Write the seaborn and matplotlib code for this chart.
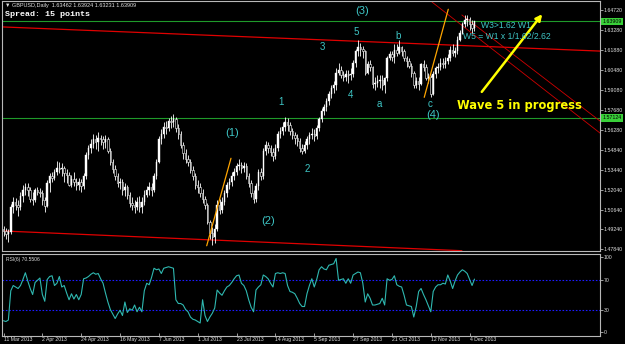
import matplotlib
matplotlib.use("Agg")
import matplotlib.pyplot as plt
import matplotlib.transforms as mtransforms
import pandas as pd
import seaborn as sns

# GBPUSD daily bars, 11 Mar 2013 .. 6 Dec 2013
close = [
    1.4915, 1.4895, 1.4905, 1.5085, 1.5120, 1.5100, 1.5085, 1.5160, 1.5200, 1.5220,
    1.5200, 1.5140, 1.5130, 1.5200, 1.5190, 1.5180, 1.5130, 1.5090, 1.5250, 1.5300,
    1.5290, 1.5330, 1.5360, 1.5350, 1.5360, 1.5320, 1.5310, 1.5240, 1.5280, 1.5260,
    1.5240, 1.5260, 1.5230, 1.5300, 1.5450, 1.5500, 1.5530, 1.5560, 1.5540, 1.5570,
    1.5560, 1.5540, 1.5560, 1.5480, 1.5400, 1.5350, 1.5300, 1.5250, 1.5260, 1.5200,
    1.5220, 1.5170, 1.5110, 1.5100, 1.5080, 1.5120, 1.5080, 1.5120, 1.5170, 1.5200,
    1.5220, 1.5200, 1.5300, 1.5400, 1.5560, 1.5600, 1.5650, 1.5640, 1.5690, 1.5680,
    1.5700, 1.5640, 1.5600, 1.5520, 1.5460, 1.5420, 1.5400, 1.5340, 1.5300, 1.5240,
    1.5220, 1.5180, 1.5140, 1.5100, 1.4980, 1.4900, 1.4870, 1.4930, 1.5100, 1.5060,
    1.5120, 1.5180, 1.5240, 1.5260, 1.5300, 1.5330, 1.5370, 1.5380, 1.5360, 1.5370,
    1.5300, 1.5250, 1.5180, 1.5140, 1.5230, 1.5330, 1.5300, 1.5480, 1.5520, 1.5500,
    1.5470, 1.5440, 1.5500, 1.5600, 1.5620, 1.5650, 1.5680, 1.5660, 1.5620, 1.5590,
    1.5570, 1.5550, 1.5500, 1.5480, 1.5520, 1.5560, 1.5590, 1.5600, 1.5580, 1.5640,
    1.5700, 1.5760, 1.5790, 1.5830, 1.5880, 1.5920, 1.5940, 1.6030, 1.6050, 1.6010,
    1.6000, 1.6020, 1.6010, 1.6020, 1.6100, 1.6180, 1.6210, 1.6200, 1.6180, 1.6030,
    1.6090, 1.6070, 1.5950, 1.5960, 1.5970, 1.5980, 1.5940, 1.5990, 1.6130, 1.6160,
    1.6140, 1.6190, 1.6170, 1.6210, 1.6180, 1.6130, 1.6110, 1.6080, 1.6030, 1.5940,
    1.5970, 1.5950, 1.6090, 1.6070, 1.5990, 1.6000, 1.5880, 1.6020, 1.6060, 1.6070,
    1.6100, 1.6090, 1.6110, 1.6130, 1.6190, 1.6170, 1.6180, 1.6260, 1.6310, 1.6370,
    1.6400, 1.6410, 1.6370, 1.63462, 1.63909,
]
high = [
    1.4950, 1.4935, 1.4930, 1.5105, 1.5150, 1.5145, 1.5130, 1.5185, 1.5235, 1.5250,
    1.5250, 1.5220, 1.5190, 1.5215, 1.5225, 1.5215, 1.5200, 1.5150, 1.5270, 1.5320,
    1.5330, 1.5350, 1.5410, 1.5400, 1.5395, 1.5375, 1.5350, 1.5330, 1.5310, 1.5330,
    1.5285, 1.5290, 1.5280, 1.5320, 1.5470, 1.5520, 1.5560, 1.5600, 1.5590, 1.5610,
    1.5590, 1.5580, 1.5590, 1.5575, 1.5500, 1.5420, 1.5380, 1.5320, 1.5290, 1.5280,
    1.5250, 1.5240, 1.5190, 1.5150, 1.5130, 1.5150, 1.5160, 1.5150, 1.5200, 1.5230,
    1.5260, 1.5250, 1.5320, 1.5420, 1.5580, 1.5630, 1.5680, 1.5690, 1.5710, 1.5725,
    1.5735, 1.5720, 1.5670, 1.5620, 1.5540, 1.5490, 1.5450, 1.5420, 1.5370, 1.5320,
    1.5270, 1.5250, 1.5210, 1.5160, 1.5110, 1.4990, 1.4940, 1.4960, 1.5130, 1.5140,
    1.5150, 1.5200, 1.5260, 1.5290, 1.5330, 1.5360, 1.5390, 1.5420, 1.5400, 1.5400,
    1.5390, 1.5320, 1.5270, 1.5200, 1.5250, 1.5350, 1.5360, 1.5500, 1.5550, 1.5540,
    1.5520, 1.5500, 1.5530, 1.5620, 1.5650, 1.5680, 1.5720, 1.5710, 1.5680, 1.5640,
    1.5610, 1.5600, 1.5570, 1.5530, 1.5550, 1.5580, 1.5610, 1.5640, 1.5630, 1.5660,
    1.5720, 1.5780, 1.5810, 1.5850, 1.5900, 1.5940, 1.5970, 1.6060, 1.6100, 1.6080,
    1.6040, 1.6050, 1.6050, 1.6060, 1.6120, 1.6200, 1.6260, 1.6240, 1.6220, 1.6190,
    1.6110, 1.6120, 1.6080, 1.6000, 1.6010, 1.6010, 1.6010, 1.6000, 1.6150, 1.6180,
    1.6180, 1.6230, 1.6230, 1.6260, 1.6220, 1.6200, 1.6150, 1.6130, 1.6100, 1.6040,
    1.6000, 1.6000, 1.6100, 1.6120, 1.6090, 1.6030, 1.6010, 1.6040, 1.6080, 1.6100,
    1.6130, 1.6130, 1.6140, 1.6160, 1.6220, 1.6230, 1.6210, 1.6290, 1.6330, 1.6390,
    1.6440, 1.6437, 1.6425, 1.6400, 1.63924,
]
low = [
    1.4880, 1.4860, 1.4835, 1.4890, 1.5040, 1.5060, 1.5020, 1.5060, 1.5120, 1.5170,
    1.5160, 1.5115, 1.5100, 1.5120, 1.5170, 1.5150, 1.5100, 1.5050, 1.5080, 1.5190,
    1.5260, 1.5270, 1.5310, 1.5320, 1.5300, 1.5260, 1.5250, 1.5230, 1.5220, 1.5230,
    1.5200, 1.5200, 1.5190, 1.5210, 1.5280, 1.5420, 1.5460, 1.5500, 1.5490, 1.5480,
    1.5520, 1.5490, 1.5500, 1.5460, 1.5380, 1.5320, 1.5270, 1.5220, 1.5210, 1.5170,
    1.5160, 1.5140, 1.5080, 1.5060, 1.5040, 1.5060, 1.5050, 1.5040, 1.5100, 1.5150,
    1.5170, 1.5160, 1.5190, 1.5280, 1.5390, 1.5530, 1.5570, 1.5600, 1.5620, 1.5640,
    1.5650, 1.5610, 1.5560, 1.5500, 1.5420, 1.5390, 1.5370, 1.5320, 1.5270, 1.5210,
    1.5180, 1.5150, 1.5110, 1.5070, 1.4960, 1.4860, 1.4815, 1.4830, 1.4910, 1.5030,
    1.5040, 1.5100, 1.5150, 1.5210, 1.5230, 1.5270, 1.5310, 1.5340, 1.5320, 1.5330,
    1.5280, 1.5220, 1.5150, 1.5110, 1.5120, 1.5200, 1.5270, 1.5280, 1.5450, 1.5460,
    1.5440, 1.5410, 1.5420, 1.5480, 1.5570, 1.5590, 1.5620, 1.5620, 1.5590, 1.5560,
    1.5530, 1.5510, 1.5470, 1.5455, 1.5460, 1.5490, 1.5530, 1.5560, 1.5550, 1.5560,
    1.5620, 1.5680, 1.5730, 1.5760, 1.5800, 1.5850, 1.5890, 1.5910, 1.6010, 1.5990,
    1.5970, 1.5970, 1.5960, 1.5980, 1.6000, 1.6070, 1.6150, 1.6150, 1.6130, 1.6010,
    1.6020, 1.6040, 1.5920, 1.5910, 1.5930, 1.5920, 1.5910, 1.5890, 1.5970, 1.6120,
    1.6110, 1.6100, 1.6150, 1.6160, 1.6150, 1.6110, 1.6070, 1.6060, 1.6000, 1.5920,
    1.5920, 1.5910, 1.5940, 1.6040, 1.5980, 1.5960, 1.5855, 1.5870, 1.5990, 1.6030,
    1.6050, 1.6060, 1.6060, 1.6090, 1.6110, 1.6150, 1.6140, 1.6160, 1.6250, 1.6300,
    1.6350, 1.6360, 1.6330, 1.6310, 1.63231,
]
first_open = 1.4925

rsi6 = [
    15, 14, 16, 55, 62, 60, 58, 62, 70, 79, 68, 58, 50, 66, 69, 72, 50, 41, 70, 74,
    75, 62, 65, 74, 60, 62, 52, 43, 51, 44, 50, 43, 50, 71, 72, 74, 77, 79, 77, 78,
    71, 65, 52, 40, 30, 24, 18, 24, 29, 22, 40, 26, 31, 29, 36, 27, 33, 27, 55, 65,
    63, 73, 85, 83, 84, 78, 85, 86, 87, 86, 85, 43, 38, 38, 36, 30, 27, 20, 17, 16,
    14, 12, 43, 22, 14, 20, 25, 32, 56, 52, 49, 55, 60, 62, 66, 71, 75, 76, 65, 62,
    55, 43, 33, 27, 56, 60, 63, 76, 74, 71, 65, 60, 78, 79, 78, 79, 78, 62, 54, 53,
    51, 45, 38, 34, 34, 51, 62, 71, 60, 70, 83, 87, 84, 83, 89, 90, 91, 98, 69, 70,
    71, 65, 71, 65, 76, 78, 80, 79, 65, 40, 51, 45, 36, 36, 37, 38, 45, 36, 71, 69,
    70, 75, 63, 61, 60, 49, 36, 35, 34, 20, 34, 54, 58, 50, 43, 35, 27, 54, 60, 63,
    63, 65, 64, 76, 68, 58, 68, 76, 80, 83, 81, 78, 70, 62, 70.5506,
]

date_labels = ["11 Mar 2013", "2 Apr 2013", "24 Apr 2013", "16 May 2013", "7 Jun 2013",
               "1 Jul 2013", "23 Jul 2013", "14 Aug 2013", "5 Sep 2013", "27 Sep 2013",
               "21 Oct 2013", "12 Nov 2013", "4 Dec 2013"]
date_bars = [0, 16, 32, 48, 64, 80, 96, 112, 128, 144, 160, 176, 192]
price_ticks = [1.64720, 1.63280, 1.61880, 1.60480, 1.59080, 1.57680, 1.56280,
               1.54840, 1.53440, 1.52040, 1.50640, 1.49240, 1.47840]
rsi_ticks = [100, 70, 30, 0]

df = pd.DataFrame({"high": high, "low": low, "close": close, "rsi": rsi6})
df["open"] = [first_open] + close[:-1]
df["bar"] = range(len(df))

sns.set_theme(style="dark", rc={"axes.facecolor": "black", "figure.facecolor": "black",
                                "axes.edgecolor": "#b8b8b8", "axes.linewidth": 0.8,
                                "axes.grid": False})
plt.rcParams["font.family"] = ["Liberation Sans", "DejaVu Sans"]

W, H = 625, 344
fig = plt.figure(figsize=(W / 100, H / 100), dpi=100)


def box(top, bottom, left=2, right=600):
    return [left / W, 1 - bottom / H, (right - left) / W, (bottom - top) / H]


ax = fig.add_axes(box(1, 251))
ax2 = fig.add_axes(box(254, 336))

# candles
up = df["close"] >= df["open"]
ax.vlines(df["bar"], df["low"], df["high"], color="white", lw=0.6, zorder=2)
body_lo = df[["open", "close"]].min(axis=1)
body_h = (df["close"] - df["open"]).abs().clip(lower=0.0002)
ax.bar(df["bar"][up], body_h[up], bottom=body_lo[up], width=0.6,
       color="white", edgecolor="white", lw=0.3, zorder=3)
ax.bar(df["bar"][~up], body_h[~up], bottom=body_lo[~up], width=0.6,
       color="black", edgecolor="white", lw=0.4, zorder=3)

# horizontal levels
for lvl in (1.63909, 1.57124):
    ax.axhline(lvl, color="#1f9a2a", lw=0.8, zorder=1)
    ax.text(1.004, lvl, f"{lvl:.5f}", transform=mtransforms.blended_transform_factory(ax.transAxes, ax.transData),
            fontsize=3.8, color="black", va="center", ha="left", clip_on=False,
            bbox=dict(boxstyle="square,pad=0.25", fc="#39d039", ec="none"))

# trend lines
ax.plot([-1, 246], [1.6353, 1.6182], color="#e00000", lw=0.9, zorder=1)
ax.plot([0.2, 188.8], [1.4913, 1.4774], color="#e00000", lw=0.9, zorder=1)
ax.plot([176.5, 246], [1.6528, 1.5600], color="#d00000", lw=0.6, zorder=1)
ax.plot([188.8, 246], [1.6437, 1.5685], color="#d00000", lw=0.6, zorder=1)
ax.plot([83.7, 93.7], [1.4809, 1.5426], color="#ffa500", lw=0.9, zorder=4)
ax.plot([173.3, 183.2], [1.5856, 1.6477], color="#ffa500", lw=0.9, zorder=4)
ax.annotate("", xy=(222.6, 1.6458), xytext=(196.3, 1.5879),
            arrowprops=dict(arrowstyle="-|>", color="yellow", lw=1.8, mutation_scale=9), zorder=5)

cyan = "#3ec6c6"
waves = [("(3)", 147.9, 1.6465, 8), ("5", 145.2, 1.6319, 7), ("3", 131.2, 1.6213, 7),
         ("b", 162.7, 1.6291, 7), ("4", 143.0, 1.5872, 7), ("a", 155.0, 1.5809, 7),
         ("c", 175.9, 1.5807, 7), ("(4)", 177.0, 1.5731, 8), ("1", 114.3, 1.5825, 7),
         ("(1)", 94.3, 1.5602, 8), ("2", 125.0, 1.5350, 7), ("(2)", 109.0, 1.4984, 8)]
for txt, xb, yp, fs in waves:
    ax.text(xb, yp, txt, color=cyan, fontsize=fs, ha="center", va="center", zorder=6)

ax.text(196.7, 1.6366, "W3>1.62 W1", color=cyan, fontsize=6.2, ha="left", va="center", zorder=6)
ax.text(189.3, 1.6284, "W5 = W1 x 1/1.62/2.62", color=cyan, fontsize=6.2, ha="left", va="center", zorder=6)
ax.text(212.7, 1.5795, "Wave 5 in progress", color="yellow", fontsize=8.3, fontweight="bold",
        family="DejaVu Sans", ha="center", va="center", zorder=6)

ax.set_xlim(-0.62, 245.7)
ax.set_ylim(1.47720, 1.65355)
ax.yaxis.tick_right()
ax.set_yticks(price_ticks)
ax.set_yticklabels([f"{t:.5f}" for t in price_ticks])
ax.set_xticks([])
ax.tick_params(axis="y", colors="#b8b8b8", labelcolor="#e0e0e0", labelsize=3.8,
               length=2, width=0.6, pad=0.8, right=True, left=False)

# RSI panel
sns.lineplot(data=df, x="bar", y="rsi", ax=ax2, color="#2fb8b0", lw=0.8)
for lvl in (70, 30):
    ax2.axhline(lvl, color="#1a1aff", lw=0.8, ls=(0, (1.5, 1.5)), zorder=1)
ax2.set_xlim(-0.62, 245.7)
ax2.set_ylim(-5.3, 104.0)
ax2.yaxis.tick_right()
ax2.set_yticks(rsi_ticks)
ax2.set_yticklabels([str(t) for t in rsi_ticks])
ax2.set_xticks(date_bars)
ax2.set_xticklabels(date_labels)
for lab in ax2.get_xticklabels():
    lab.set_ha("left")
ax2.tick_params(axis="both", colors="#b8b8b8", labelcolor="#e0e0e0", labelsize=3.7,
                length=2, width=0.6, pad=0.6)
ax2.tick_params(axis="y", right=True, left=False)
ax2.tick_params(axis="x", bottom=True, direction="in")
ax2.set_xlabel("")
ax2.set_ylabel("")
ax2.text(0.006, 0.93, "RSI(6) 70.5506", transform=ax2.transAxes, color="#e0e0e0",
         fontsize=3.6, ha="left", va="center")

# header
fig.text(5 / W, 1 - 6 / H, "\u25bc GBPUSD,Daily  1.63462 1.63924 1.63231 1.63909",
         color="#e0e0e0", fontsize=4.0, ha="left", va="center", family=["Liberation Sans", "DejaVu Sans"])
fig.text(5 / W, 1 - 14 / H, "Spread: 15 points", color="white", fontsize=6.0,
         fontweight="bold", family="Liberation Mono", ha="left", va="center")

fig.savefig("out.png", dpi=100, facecolor="black")
